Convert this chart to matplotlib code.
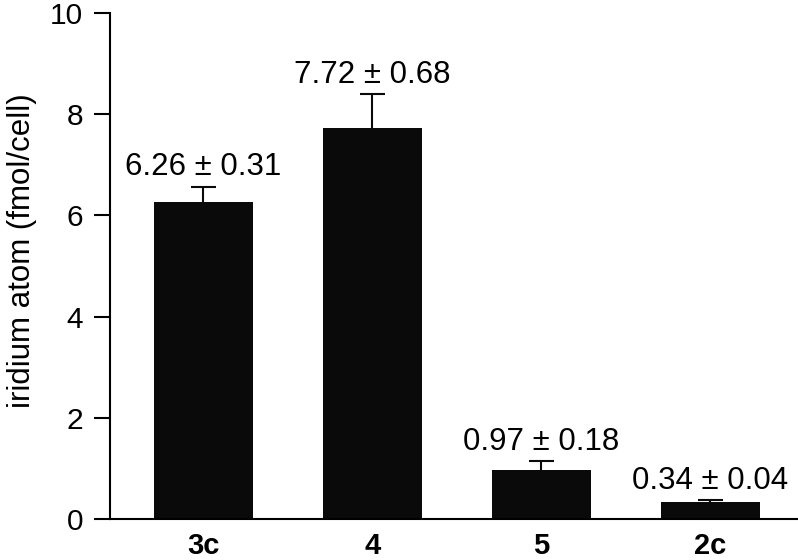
import numpy as np
import matplotlib.pyplot as plt

plt.rcParams['font.family'] = ['Liberation Sans', 'DejaVu Sans']

labels = ['3c', '4', '5', '2c']
values = [6.26, 7.72, 0.97, 0.34]
errors = [0.31, 0.68, 0.18, 0.04]

fig = plt.figure(figsize=(7.98, 5.6), dpi=100)
ax = fig.add_axes([110 / 798, 41 / 560, 688 / 798, 506 / 560])

x = np.arange(len(labels))
ax.bar(x, values, width=0.585, color='#0a0a0a', zorder=2)
eb = ax.errorbar(x, values, yerr=[np.zeros(len(errors)), errors], fmt='none',
                 ecolor='#0a0a0a', elinewidth=1.5, capsize=9, capthick=1.5, zorder=1)
# only the upper cap is shown
eb[1][0].set_visible(False)

for xi, v, e in zip(x, values, errors):
    ax.annotate(f'{v:.2f} \u00b1 {e:.2f}', (xi, v + e), xytext=(0, 3),
                textcoords='offset points', ha='center', va='bottom', fontsize=22.5)

ax.set_xlim(-0.553, 3.52)
ax.set_ylim(0, 10)
ax.set_yticks([0, 2, 4, 6, 8, 10])
ax.set_xticks(x)
ax.set_xticklabels(labels, fontsize=21, fontweight='bold')
ax.tick_params(axis='x', length=0, pad=9)
ax.tick_params(axis='y', labelsize=21.5, length=11.5, width=1.5, pad=8)
ax.set_ylabel('iridium atom (fmol/cell)', fontsize=22.5)
ax.yaxis.set_label_coords(-0.106, 0.53)

ax.spines['top'].set_visible(False)
ax.spines['right'].set_visible(False)
ax.spines['left'].set_linewidth(1.5)
ax.spines['bottom'].set_linewidth(1.5)

fig.savefig('out.png', dpi=100)
